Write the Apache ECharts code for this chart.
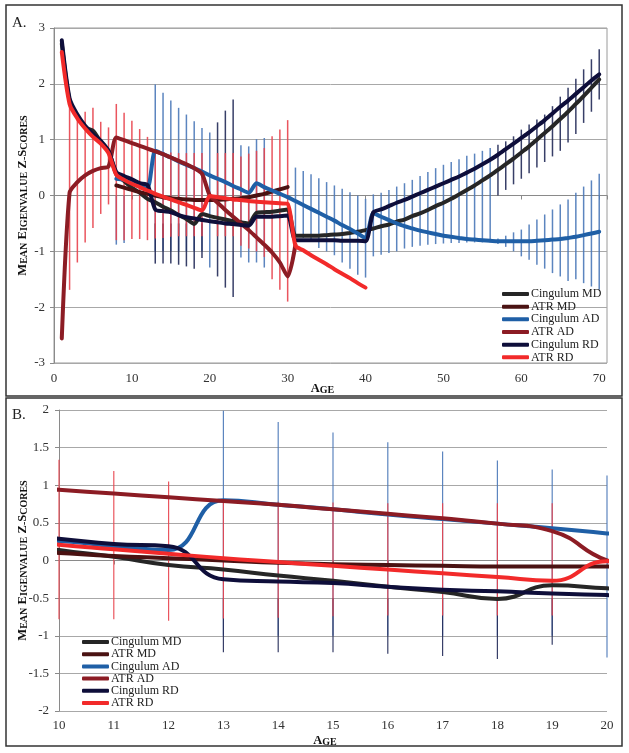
<!DOCTYPE html>
<html><head><meta charset="utf-8">
<script src="https://cdn.jsdelivr.net/npm/echarts@6/dist/echarts.min.js"></script>
<style>html,body{margin:0;padding:0;background:#fff}#c{width:629px;height:753px}</style>
</head><body><div id="c"></div><script>
// ---- data (age, value) ----
const cingMD = [[1,2.72],[2,1.7],[3,1.42],[4,1.22],[5,1.16],[6,0.96],[7,0.8],[8,0.38],[9,0.26],[10,0.14],[11,0.05],[12,-0.06],[13,-0.12],[14,-0.2],[15,-0.27],[16,-0.35],[17,-0.42],[18,-0.51],[19,-0.33],[20,-0.37],[21,-0.4],[22,-0.43],[23,-0.46],[24,-0.48],[25,-0.5],[26,-0.31],[27,-0.3],[28,-0.29],[29,-0.27],[30,-0.25],[31,-0.72],[32,-0.72],[33,-0.72],[34,-0.72],[35,-0.71],[36,-0.7],[37,-0.69],[38,-0.67],[39,-0.65],[40,-0.62],[41,-0.59],[42,-0.55],[43,-0.52],[44,-0.47],[45,-0.43],[46,-0.37],[47,-0.32],[48,-0.26],[49,-0.19],[50,-0.13],[51,-0.06],[52,0.02],[53,0.1],[54,0.18],[55,0.27],[56,0.36],[57,0.46],[58,0.56],[59,0.66],[60,0.77],[61,0.88],[62,1.0],[63,1.12],[64,1.24],[65,1.37],[66,1.5],[67,1.64],[68,1.78],[69,1.93],[70,2.08]];
const atrMD = [[8,0.18],[9,0.14],[10,0.1],[11,0.06],[12,0.03],[13,0.0],[14,-0.03],[15,-0.05],[16,-0.06],[17,-0.07],[18,-0.08],[19,-0.08],[20,-0.08],[21,-0.08],[22,-0.07],[23,-0.06],[24,-0.05],[25,-0.03],[26,0.0],[27,0.03],[28,0.07],[29,0.11],[30,0.15]];
const cingAD = [[8,0.3],[9,0.28],[10,0.26],[11,0.19],[12,0.14],[13,0.8],[14,0.74],[15,0.68],[16,0.61],[17,0.55],[18,0.49],[19,0.43],[20,0.36],[21,0.3],[22,0.24],[23,0.17],[24,0.11],[25,0.05],[26,0.22],[27,0.15],[28,0.09],[29,0.03],[30,-0.03],[31,-0.1],[32,-0.17],[33,-0.24],[34,-0.31],[35,-0.38],[36,-0.45],[37,-0.53],[38,-0.6],[39,-0.68],[40,-0.76],[41,-0.32],[42,-0.38],[43,-0.44],[44,-0.5],[45,-0.55],[46,-0.59],[47,-0.63],[48,-0.66],[49,-0.69],[50,-0.72],[51,-0.74],[52,-0.76],[53,-0.78],[54,-0.79],[55,-0.8],[56,-0.81],[57,-0.82],[58,-0.82],[59,-0.82],[60,-0.82],[61,-0.82],[62,-0.81],[63,-0.8],[64,-0.79],[65,-0.78],[66,-0.76],[67,-0.74],[68,-0.71],[69,-0.68],[70,-0.65]];
const atrAD = [[1,-2.56],[2,0.05],[3,0.24],[4,0.36],[5,0.44],[6,0.49],[7,0.52],[8,1.04],[9,0.99],[10,0.94],[11,0.89],[12,0.84],[13,0.79],[14,0.74],[15,0.68],[16,0.62],[17,0.56],[18,0.49],[19,0.39],[20,0.0],[21,-0.13],[22,-0.26],[23,-0.38],[24,-0.5],[25,-0.62],[26,-0.75],[27,-0.88],[28,-1.02],[29,-1.2],[30,-1.45],[31,-0.88]];
const cingRD = [[1,2.78],[2,1.74],[3,1.45],[4,1.25],[5,1.1],[6,0.98],[7,0.8],[8,0.42],[9,0.35],[10,0.29],[11,0.22],[12,0.19],[13,-0.25],[14,-0.28],[15,-0.3],[16,-0.35],[17,-0.39],[18,-0.41],[19,-0.44],[20,-0.46],[21,-0.48],[22,-0.5],[23,-0.51],[24,-0.53],[25,-0.54],[26,-0.38],[27,-0.38],[28,-0.38],[29,-0.37],[30,-0.36],[31,-0.8],[32,-0.8],[33,-0.8],[34,-0.8],[35,-0.8],[36,-0.8],[37,-0.81],[38,-0.81],[39,-0.81],[40,-0.82],[41,-0.3],[42,-0.25],[43,-0.19],[44,-0.13],[45,-0.08],[46,-0.02],[47,0.04],[48,0.1],[49,0.16],[50,0.22],[51,0.28],[52,0.34],[53,0.41],[54,0.48],[55,0.56],[56,0.64],[57,0.73],[58,0.83],[59,0.93],[60,1.03],[61,1.13],[62,1.24],[63,1.35],[64,1.47],[65,1.59],[66,1.7],[67,1.82],[68,1.94],[69,2.06],[70,2.17]];
const atrRD = [[1,2.57],[2,1.64],[3,1.38],[4,1.2],[5,1.05],[6,0.93],[7,0.76],[8,0.37],[9,0.28],[10,0.21],[11,0.15],[12,0.09],[13,0.03],[14,-0.02],[15,-0.07],[16,-0.12],[17,-0.17],[18,-0.22],[19,-0.27],[20,-0.01],[21,-0.03],[22,-0.05],[23,-0.07],[24,-0.08],[25,-0.1],[26,-0.11],[27,-0.12],[28,-0.13],[29,-0.14],[30,-0.15],[31,-0.9],[32,-0.98],[33,-1.07],[34,-1.15],[35,-1.23],[36,-1.32],[37,-1.4],[38,-1.48],[39,-1.57],[40,-1.65]];

// error bars: [age, low, high]
const errBlue = [[8,-0.88,0],[9,-0.85,0],[13,-1.0,1.99],[14,-1.0,1.84],[15,-1.0,1.7],[16,-1.0,1.57],[17,-1.0,1.45],[18,-1.0,1.33],[19,-1.0,1.21],[20,-1.29,1.13],[24,-1.11,0.9],[25,-1.2,0.88],[26,-1.2,1.01],[27,-1.29,1.03],[31,-0.7,0.5],[32,-0.76,0.44],[33,-0.82,0.38],[34,-0.94,0.31],[35,-1.0,0.24],[36,-1.07,0.18],[37,-1.2,0.12],[38,-1.31,0.06],[39,-1.42,0.0],[40,-1.47,-0.06],[41,-1.09,0.02],[42,-1.06,0.05],[43,-1.03,0.1],[44,-1.0,0.16],[45,-0.95,0.22],[46,-0.92,0.28],[47,-0.9,0.35],[48,-0.88,0.42],[49,-0.87,0.49],[50,-0.86,0.55],[51,-0.85,0.6],[52,-0.85,0.65],[53,-0.84,0.71],[54,-0.84,0.75],[55,-0.84,0.8],[56,-0.84,0.85],[57,-0.87,-0.77],[58,-0.92,-0.72],[59,-1.0,-0.66],[60,-1.09,-0.61],[61,-1.15,-0.52],[62,-1.24,-0.43],[63,-1.31,-0.34],[64,-1.39,-0.25],[65,-1.45,-0.16],[66,-1.53,-0.07],[67,-1.5,0.05],[68,-1.57,0.16],[69,-1.63,0.27],[70,-1.69,0.39]];
const errNavy = [[13,-1.22,-0.5],[14,-1.22,-0.5],[15,-1.22,-0.5],[16,-1.24,-0.5],[17,-1.27,-0.5],[18,-1.31,-0.5],[19,-1.12,-0.5],[21,-1.45,1.31],[22,-1.65,1.52],[23,-1.82,1.72],[57,0.0,0.91],[58,0.1,0.97],[59,0.2,1.06],[60,0.3,1.18],[61,0.4,1.27],[62,0.5,1.36],[63,0.6,1.45],[64,0.7,1.6],[65,0.8,1.77],[66,0.95,1.93],[67,1.1,2.09],[68,1.3,2.26],[69,1.5,2.44],[70,1.72,2.62]];
const errRed = [[2,-1.69,1.6],[3,-1.2,1.49],[4,-0.84,1.5],[5,-0.58,1.57],[6,-0.33,1.32],[7,-0.16,1.22],[8,-0.8,1.64],[9,-0.8,1.48],[10,-0.78,1.34],[11,-0.78,1.19],[12,-0.8,1.05],[13,-0.77,0.8],[14,-0.76,0.78],[15,-0.74,0.77],[16,-0.73,0.76],[17,-0.73,0.76],[18,-0.73,0.76],[19,-0.73,0.76],[21,-0.73,0.76],[22,-0.73,0.76],[23,-0.73,0.76],[24,-0.9,0.7],[25,-0.95,0.75],[26,-1.0,0.8],[27,-1.1,0.85],[28,-1.5,1.06],[29,-1.69,1.18],[30,-1.9,1.35]];

const seriesNames = ['Cingulum MD','ATR MD','Cingulum AD','ATR AD','Cingulum RD','ATR RD'];
const seriesData = [cingMD, atrMD, cingAD, atrAD, cingRD, atrRD];
const seriesColors = ['#262626','#4a1212','#1f5fa6','#8c1c24','#0e0e3a','#f22a2a'];
const topXTicks = [0,10,20,30,40,50,60,70];

const FONT = '"Liberation Serif", "Times New Roman", serif';
const chart = echarts.init(document.getElementById('c'), null, {renderer:'canvas'});

function barSeries(data, color, width, gi, lo, hi) {
  return {
    type: 'custom', xAxisIndex: gi, yAxisIndex: gi, silent: true, z: 1,
    data: data.filter(d => d[0] >= lo && d[0] <= hi),
    encode: {x: 0, y: [1, 2]},
    renderItem: function (params, api) {
      const a = api.coord([api.value(0), api.value(1)]);
      const b = api.coord([api.value(0), api.value(2)]);
      return {type: 'line', shape: {x1: a[0], y1: a[1], x2: b[0], y2: b[1]},
              style: {stroke: color, lineWidth: width, opacity: 0.9}};
    }
  };
}
function lineSeries(i, gi, smooth) {
  return {
    type: 'line', name: seriesNames[i], xAxisIndex: gi, yAxisIndex: gi,
    data: seriesData[i], showSymbol: false, symbol: 'none', smooth: smooth,
    color: seriesColors[i], z: 3, silent: true,
    lineStyle: {width: 4, color: seriesColors[i], cap: 'round', join: 'round'},
    emphasis: {disabled: true}
  };
}
const nameRich = {
  b: {fontSize: 12.5, fontWeight: 'bold', fontFamily: FONT, color: '#111', verticalAlign: 'bottom', lineHeight: 14},
  s: {fontSize: 10, fontWeight: 'bold', fontFamily: FONT, color: '#111', verticalAlign: 'bottom', lineHeight: 14}
};
const yName = '{b|M}{s|EAN} {b|E}{s|IGENVALUE} {b|Z}{s|-}{b|S}{s|CORES}';
const xName = '{b|A}{s|GE}';
const axisLineS = {lineStyle: {color: '#8a8a8a', width: 1}};
const labelS = {fontFamily: FONT, fontSize: 13, color: '#333'};

const series = [];
[[0, 0, 71], [1, 10, 20]].forEach(([gi, lo, hi]) => {
  const w = gi === 0 ? 1.5 : 1.2;
  series.push(barSeries(errBlue, '#4a78b8', w, gi, lo, hi));
  series.push(barSeries(errNavy, '#222a58', w, gi, lo, hi));
  series.push(barSeries(errRed, '#e8424c', w, gi, lo, hi));
  for (let i = 0; i < 6; i++) series.push(lineSeries(i, gi, gi === 0 ? 0.25 : 0.5));
});

const legendCommon = {
  orient: 'vertical', icon: 'roundRect', itemWidth: 27, itemHeight: 4, padding: 0,
  selectedMode: false, data: seriesNames,
  textStyle: {fontFamily: FONT, fontSize: 12, color: '#222', lineHeight: 12, padding: [0,0,0,-3]}
};

chart.setOption({
  animation: false,
  backgroundColor: '#fff',
  grid: [
    {left: 54, top: 28, width: 553, height: 335, show: true, borderColor: '#9a9a9a', borderWidth: 1, backgroundColor: 'transparent'},
    {left: 59, top: 410, width: 548, height: 301}
  ],
  xAxis: [
    {type: 'value', gridIndex: 0, min: 0, max: 71, interval: 10,
     axisLine: axisLineS, axisTick: {show: true, length: 4, lineStyle: {color: '#8a8a8a'}},
     axisLabel: Object.assign({margin: 9, formatter: v => topXTicks.includes(v) ? String(v) : ''}, labelS),
     splitLine: {show: false},
     name: xName, nameLocation: 'middle', nameGap: 18, nameMoveOverlap: false, nameTextStyle: {rich: nameRich, padding: [0, 16, 0, 0]}},
    {type: 'value', gridIndex: 1, min: 10, max: 20, interval: 1,
     axisLine: axisLineS, axisTick: {show: true, length: 4, lineStyle: {color: '#8a8a8a'}},
     axisLabel: Object.assign({margin: 8}, labelS),
     splitLine: {show: false},
     name: xName, nameLocation: 'middle', nameGap: 22, nameMoveOverlap: false, nameTextStyle: {rich: nameRich, padding: [0, 16, 0, 0]}}
  ],
  yAxis: [
    {type: 'value', gridIndex: 0, min: -3, max: 3, interval: 1,
     axisLine: {show: true, lineStyle: {color: '#8a8a8a'}}, axisTick: {show: true, length: 4, lineStyle: {color: '#8a8a8a'}},
     axisLabel: Object.assign({margin: 9}, labelS),
     splitLine: {show: true, lineStyle: {color: '#a8a8a8', width: 1}},
     name: yName, nameLocation: 'middle', nameRotate: 90, nameGap: 25, nameMoveOverlap: false, nameTextStyle: {rich: nameRich}},
    {type: 'value', gridIndex: 1, min: -2, max: 2, interval: 0.5,
     axisLine: {show: true, lineStyle: {color: '#8a8a8a'}}, axisTick: {show: true, length: 4, lineStyle: {color: '#8a8a8a'}},
     axisLabel: Object.assign({margin: 10}, labelS),
     splitLine: {show: true, lineStyle: {color: '#a8a8a8', width: 1}},
     name: yName, nameLocation: 'middle', nameRotate: 90, nameGap: 30, nameMoveOverlap: false, nameTextStyle: {rich: nameRich}}
  ],
  legend: [
    Object.assign({left: 502, top: 288, itemGap: 0.67}, legendCommon),
    Object.assign({left: 82, top: 636, itemGap: 0.2}, legendCommon)
  ],
  graphic: [
    {type: 'rect', shape: {x: 6, y: 5, width: 616, height: 391}, style: {fill: 'none', stroke: '#333', lineWidth: 1.5}, silent: true},
    {type: 'rect', shape: {x: 6, y: 398, width: 616, height: 348}, style: {fill: 'none', stroke: '#333', lineWidth: 1.5}, silent: true},
    {type: 'text', left: 12, top: 16, style: {text: 'A.', fontFamily: FONT, fontSize: 15, fill: '#222'}, silent: true},
    {type: 'text', left: 12, top: 408, style: {text: 'B.', fontFamily: FONT, fontSize: 15, fill: '#222'}, silent: true}
  ],
  series: series
});
</script></body></html>
